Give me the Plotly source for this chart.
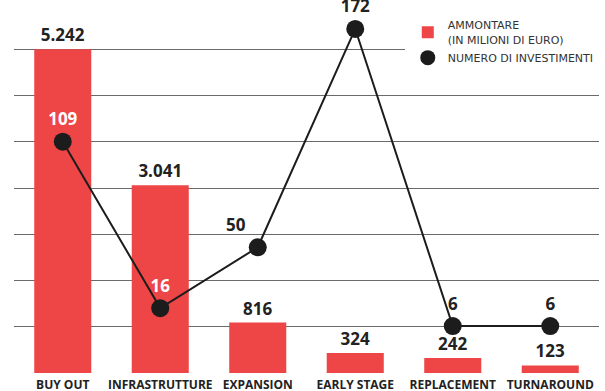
import plotly.graph_objects as go

categories = ["BUY OUT", "INFRASTRUTTURE", "EXPANSION", "EARLY STAGE", "REPLACEMENT", "TURNAROUND"]
ammontare = [5242, 3041, 816, 324, 242, 123]          # milioni di euro
numero = [109, 16, 50, 172, 6, 6]                      # numero di investimenti

RED = "#EE4646"
DARK = "#1c1c1c"
FONT = "Open Sans"

fig = go.Figure()

fig.add_trace(go.Bar(
    x=categories, y=ammontare,
    name="AMMONTARE<br>(IN MILIONI DI EURO)",
    marker=dict(color=RED, line=dict(width=0)),
    width=0.585,
    texttemplate="%{y:,}", textposition="outside", cliponaxis=False,
    constraintext="none",
    textfont=dict(family=FONT, size=17, color="#222", weight="bold"),
    yaxis="y",
))

label_colors = ["white", "white", "#222", "#222", "#222", "#222"]
label_pos = ["top center", "top center", "top left", "top center", "top center", "top center"]
fig.add_trace(go.Scatter(
    x=categories, y=numero,
    mode="lines+markers+text",
    line=dict(color=DARK, width=2),
    marker=dict(color=DARK, size=18),
    text=[str(v) for v in numero],
    textposition=label_pos,
    textfont=dict(family=FONT, size=17, color=label_colors, weight="bold"),
    cliponaxis=False,
    showlegend=False,
    yaxis="y2",
))

# legend-only entry for the line series (circle symbol)
fig.add_trace(go.Scatter(
    x=[None], y=[None], mode="markers",
    name="NUMERO DI INVESTIMENTI",
    marker=dict(color=DARK, size=15),
    yaxis="y2",
))

fig.update_layout(
    width=605, height=391,
    margin=dict(l=14, r=6, t=3, b=18, autoexpand=False),
    plot_bgcolor="rgba(0,0,0,0)", paper_bgcolor="white",
    separators=",.",
    showlegend=True,
    legend=dict(
        x=0.668, y=0.985, xanchor="left", yanchor="top",
        bgcolor="white", bordercolor="white", borderwidth=3,
        font=dict(family="DejaVu Sans", size=11, color="#333"),
        itemsizing="trace",
        tracegroupgap=12,
    ),
    xaxis=dict(
        showgrid=False, showline=False, ticks="", automargin=False,
        tickfont=dict(family=FONT, size=12, color="#222", weight="bold"),
        ticklabelstandoff=3,
    ),
    yaxis=dict(
        range=[0, 5992], dtick=5242 / 7, tick0=0,
        showgrid=True, gridcolor="#6a6a6a", gridwidth=1, griddash="solid",
        zeroline=False, showticklabels=False, ticks="", showline=False,
        automargin=False,
    ),
    yaxis2=dict(
        overlaying="y", range=[-20.25, 186.5], automargin=False,
        showgrid=False, zeroline=False, showticklabels=False, ticks="", showline=False,
    ),
)

fig.write_html("out.html")
